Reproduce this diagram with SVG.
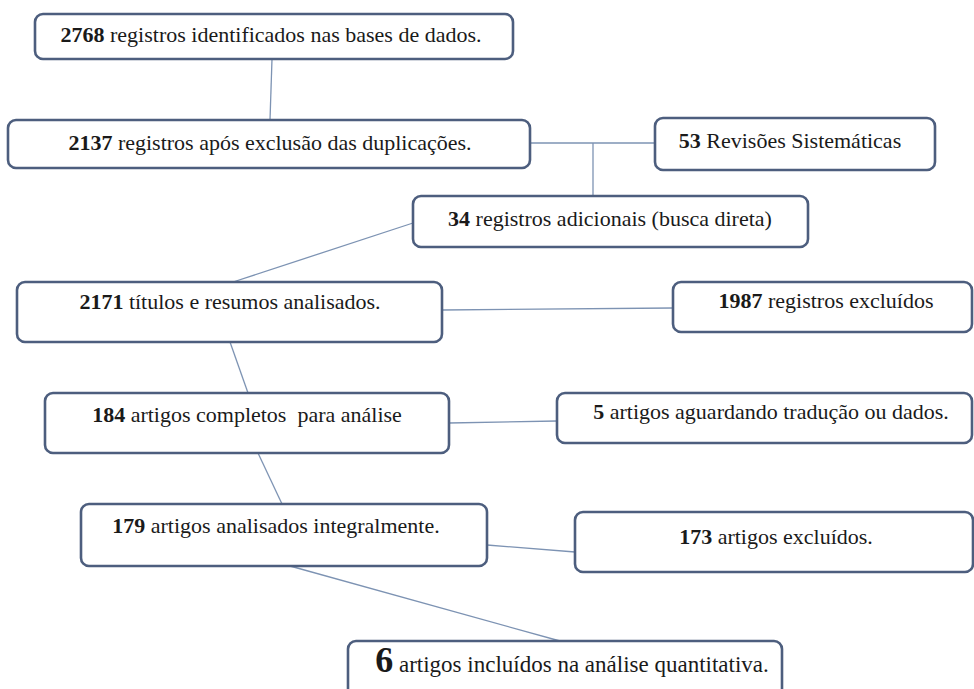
<svg xmlns="http://www.w3.org/2000/svg" width="974" height="689" viewBox="0 0 974 689">
<defs>
<style>
.box{fill:#ffffff;stroke:#4d5e7e;stroke-width:2.6}
.t{font-family:"Liberation Serif","Times New Roman",serif;font-size:22px;fill:#1a1a1a;text-anchor:middle}
.b{font-weight:bold}
.c{stroke:#7d93b3;stroke-width:1.3;fill:none}
</style>
</defs>
<rect width="974" height="689" fill="#ffffff"/>
<g id="connectors">
<line class="c" x1="272" y1="59" x2="270" y2="120"/>
<line class="c" x1="530" y1="143" x2="655" y2="143"/>
<line class="c" x1="593" y1="143" x2="593" y2="196"/>
<line class="c" x1="413" y1="223" x2="233" y2="282"/>
<line class="c" x1="442" y1="310" x2="673" y2="308"/>
<line class="c" x1="230" y1="342" x2="248" y2="393"/>
<line class="c" x1="449" y1="423" x2="557" y2="421"/>
<line class="c" x1="258" y1="453" x2="282" y2="504"/>
<line class="c" x1="487" y1="545" x2="575" y2="552"/>
<line class="c" x1="290" y1="566" x2="560" y2="641"/>
</g>
<g id="n2768">
<rect class="box" x="35" y="14" width="478" height="45" rx="8"/>
<text class="t" x="271" y="42"><tspan class="b">2768</tspan> registros identificados nas bases de dados.</text>
</g>
<g id="n2137">
<rect class="box" x="8" y="120" width="522" height="48" rx="8"/>
<text class="t" x="270" y="150"><tspan class="b">2137</tspan> registros após exclusão das duplicações.</text>
</g>
<g id="n53">
<rect class="box" x="655" y="118" width="280" height="52" rx="8"/>
<text class="t" x="790" y="148"><tspan class="b">53</tspan> Revisões Sistemáticas</text>
</g>
<g id="n34">
<rect class="box" x="413" y="196" width="395" height="51" rx="8"/>
<text class="t" x="610" y="226"><tspan class="b">34</tspan> registros adicionais (busca direta)</text>
</g>
<g id="n2171">
<rect class="box" x="17" y="282" width="425" height="60" rx="8"/>
<text class="t" x="230" y="309"><tspan class="b">2171</tspan> títulos e resumos analisados.</text>
</g>
<g id="n1987">
<rect class="box" x="673" y="282" width="299" height="50" rx="8"/>
<text class="t" x="826" y="308"><tspan class="b">1987</tspan> registros excluídos</text>
</g>
<g id="n184">
<rect class="box" x="45" y="393" width="404" height="60" rx="8"/>
<text class="t" x="247" y="422" xml:space="preserve"><tspan class="b">184</tspan> artigos completos  para análise</text>
</g>
<g id="n5">
<rect class="box" x="557" y="393" width="415" height="50" rx="8"/>
<text class="t" x="771" y="419"><tspan class="b">5</tspan> artigos aguardando tradução ou dados.</text>
</g>
<g id="n179">
<rect class="box" x="81" y="504" width="406" height="62" rx="8"/>
<text class="t" x="276" y="533"><tspan class="b">179</tspan> artigos analisados integralmente.</text>
</g>
<g id="n173">
<rect class="box" x="575" y="512" width="398" height="60" rx="8"/>
<text class="t" x="776" y="544"><tspan class="b">173</tspan> artigos excluídos.</text>
</g>
<g id="n6">
<rect class="box" x="348" y="641" width="434" height="62" rx="8"/>
<text class="t" x="572" y="672" style="font-size:23px"><tspan class="b" style="font-size:36px">6</tspan> artigos incluídos na análise quantitativa.</text>
</g>
</svg>
